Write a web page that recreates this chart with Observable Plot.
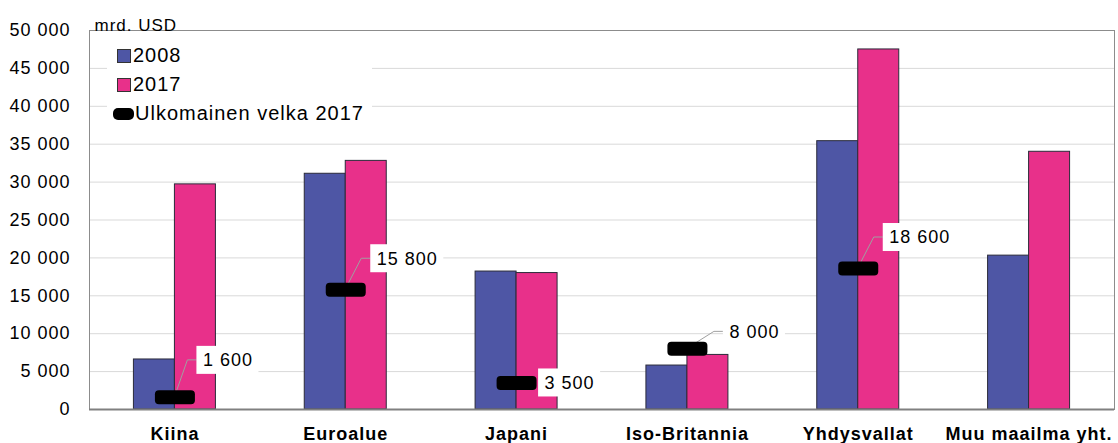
<!DOCTYPE html>
<html><head><meta charset="utf-8">
<script src="https://cdn.jsdelivr.net/npm/d3@7"></script>
<script src="https://cdn.jsdelivr.net/npm/@observablehq/plot@0.6"></script>
<style>
body{margin:0;background:#fff;}
#wrap{position:relative;width:1118px;height:443px;font-family:"Liberation Sans",Arial,sans-serif;}
#chart svg text{font-family:"Liberation Sans",Arial,sans-serif;letter-spacing:1px;fill:#000;}
#chart g[aria-label^="x-axis"] text{font-weight:bold;}
#legend{position:absolute;left:107px;top:36px;width:265px;height:90px;background:#fff;font-size:20px;letter-spacing:1px;color:#000;}
#legend .row{position:absolute;left:0;height:29px;display:flex;align-items:center;}
#legend .sw{display:inline-block;width:12px;height:12px;border:1px solid #333;margin-left:10px;margin-right:2px;}
#legend .pill{display:inline-block;width:21px;height:12px;border-radius:5px;background:#000;margin-left:6px;margin-right:1px;}
</style></head><body>
<div id="wrap"><div id="chart"></div><div id="legend"></div></div>
<script>
// ---- data ----
const categories = ["Kiina", "Euroalue", "Japani", "Iso-Britannia", "Yhdysvallat", "Muu maailma yht."];
const years = ["2008", "2017"];
const values2008 = [6600, 31100, 18200, 5800, 35400, 20300];
const values2017 = [29700, 32800, 18000, 7200, 47500, 34000];
const debtCategories = ["Kiina", "Euroalue", "Japani", "Iso-Britannia", "Yhdysvallat"];
const debt2017 = [1600, 15800, 3500, 8000, 18600];
const yTicks = [0, 5000, 10000, 15000, 20000, 25000, 30000, 35000, 40000, 45000, 50000];
const unitLabel = "mrd. USD";
const debtLabel = "Ulkomainen velka 2017";

// ---- presentation ----
const colors = ["#4e56a5", "#e8308a"];
const barWidth = 0.24;
const labelOffsets = {
  "Kiina": {dx: 28, dy: -37},
  "Euroalue": {dx: 31, dy: -31},
  "Japani": {dx: 28, dy: 0},
  "Iso-Britannia": {dx: 42, dy: -17},
  "Yhdysvallat": {dx: 31, dy: -31}
};
const fmt = d => d3.format(",")(d).replace(/,/g, "\u00a0");

const bars = [];
categories.forEach((c, i) => {
  bars.push({category: c, i, year: years[0], value: values2008[i]});
  bars.push({category: c, i, year: years[1], value: values2017[i]});
});
const debt = debtCategories.map((c, k) => ({category: c, i: categories.indexOf(c), value: debt2017[k]}));

const pill = {
  draw(ctx) {
    const w = 20, h = 7, r = 4;
    ctx.moveTo(-w + r, -h); ctx.lineTo(w - r, -h); ctx.arcTo(w, -h, w, -h + r, r);
    ctx.lineTo(w, h - r); ctx.arcTo(w, h, w - r, h, r);
    ctx.lineTo(-w + r, h); ctx.arcTo(-w, h, -w, h - r, r);
    ctx.lineTo(-w, -h + r); ctx.arcTo(-w, -h, -w + r, -h, r);
    ctx.closePath();
  }
};

const canvas = document.createElement("canvas").getContext("2d");
canvas.font = "18px 'Liberation Sans'";
const measure = s => canvas.measureText(s).width + s.length * 1;

function labelBoxes(index, scales) {
  const g = d3.create("svg:g");
  debt.forEach(d => {
    const mx = scales.x(d.i), my = scales.y(d.value);
    const o = labelOffsets[d.category];
    const tw = measure(fmt(d.value));
    const bx = mx + o.dx - 6, cy = my + o.dy;
    if (o.dy !== 0) {
      g.append("path").attr("d", `M${mx},${my}L${bx - 9},${cy}H${bx}`)
        .attr("fill", "none").attr("stroke", "#a0a0a0").attr("stroke-width", 1);
    }
    g.append("rect").attr("x", bx).attr("y", cy - 14).attr("width", tw + 12).attr("height", 28).attr("fill", "#fff");
  });
  return g.node();
}

const chart = Plot.plot({
  width: 1118,
  height: 443,
  marginLeft: 89,
  marginRight: 4,
  marginTop: 30,
  marginBottom: 34,
  style: {fontSize: "18px", fontFamily: "Liberation Sans, Arial, sans-serif", background: "#fff"},
  x: {domain: [-0.5, categories.length - 0.5], ticks: categories.map((c, i) => i), tickFormat: i => categories[i], tickSize: 0, tickPadding: 18, label: null},
  y: {domain: [0, 50000], ticks: yTicks, tickFormat: fmt, tickSize: 0, tickPadding: 19, label: null},
  color: {domain: years, range: colors},
  marks: [
    Plot.ruleY(yTicks.filter(t => t > 0 && t < 50000), {stroke: "#d9d9d9", strokeWidth: 1}),
    Plot.rectY(bars, {
      x1: d => d.i - (d.year === years[0] ? barWidth : 0),
      x2: d => d.i + (d.year === years[0] ? 0 : barWidth),
      y1: 0, y2: "value", fill: "year", stroke: "#2b2b3a", strokeWidth: 1
    }),
    Plot.frame({stroke: "#8c8c8c"}),
    Plot.ruleY([0], {stroke: "#808080", strokeWidth: 2}),
    labelBoxes,
    Plot.dot(debt, {x: "i", y: "value", symbol: pill, r: 5, fill: "#000", stroke: "none"}),
    ...debt.map(d => Plot.text([d], {
      x: "i", y: "value", text: d => fmt(d.value), textAnchor: "start",
      dx: labelOffsets[d.category].dx, dy: labelOffsets[d.category].dy, fontSize: 18, fill: "#000"
    })),
    Plot.text([unitLabel], {frameAnchor: "top-left", text: d => d, dx: 5, dy: -12, fontSize: 17, textAnchor: "start", fill: "#000"})
  ]
});
document.getElementById("chart").appendChild(chart);

// legend
const legend = d3.select("#legend");
years.forEach((y, k) => {
  const row = legend.append("div").attr("class", "row").style("top", (5 + k * 29) + "px");
  row.append("span").attr("class", "sw").style("background", colors[k]);
  row.append("span").text(y);
});
const row3 = legend.append("div").attr("class", "row").style("top", (5 + 2 * 29) + "px");
row3.append("span").attr("class", "pill");
row3.append("span").text(debtLabel);
</script>
</body></html>
